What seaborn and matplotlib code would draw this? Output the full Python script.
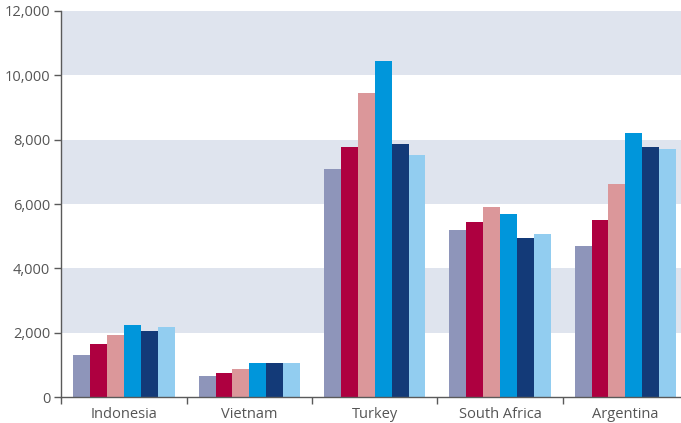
import matplotlib
matplotlib.use("Agg")
import matplotlib.pyplot as plt
import seaborn as sns
import pandas as pd
from matplotlib.ticker import FixedLocator, FuncFormatter

countries = ["Indonesia", "Vietnam", "Turkey", "South Africa", "Argentina"]
series = ["S1", "S2", "S3", "S4", "S5", "S6"]
values = {
    "S1": [1300, 650, 7100, 5180, 4690],
    "S2": [1650, 745, 7760, 5430, 5500],
    "S3": [1920, 870, 9450, 5920, 6610],
    "S4": [2230, 1055, 10460, 5680, 8200],
    "S5": [2050, 1055, 7850, 4930, 7760],
    "S6": [2170, 1055, 7510, 5060, 7700],
}
palette = ["#8E95BA", "#AE0040", "#DB979A", "#0096DB", "#133A78", "#92CDF0"]
y_ticks = [0, 2000, 4000, 6000, 8000, 10000, 12000]

df = pd.DataFrame(
    [(c, s, values[s][i]) for s in series for i, c in enumerate(countries)],
    columns=["country", "series", "value"],
)

sns.set_theme(style="white")
plt.rcParams["font.family"] = ["Open Sans", "DejaVu Sans"]

fig = plt.figure(figsize=(6.81, 4.23), dpi=100)
W, H = 681, 423
x0, x1, y0, y1 = 61.4, 688, 397, 11
ax = fig.add_axes([x0 / W, 1 - y0 / H, (x1 - x0) / W, (y0 - y1) / H])

# alternating horizontal bands
for lo in (2000, 6000, 10000):
    ax.axhspan(lo, lo + 2000, color="#DFE4EE", lw=0, zorder=0)

sns.barplot(
    data=df, x="country", y="value", hue="series", order=countries,
    hue_order=series, palette=palette, width=0.81, gap=0,
    saturation=1, errorbar=None, legend=False, ax=ax, zorder=2,
)
for p in ax.patches:
    p.set_edgecolor("none")

ax.set_xlim(-0.5, 4.5)
ax.set_ylim(0, 12000)
ax.set_xlabel("")
ax.set_ylabel("")

for s in ("top", "right"):
    ax.spines[s].set_visible(False)
for s in ("left", "bottom"):
    ax.spines[s].set_color("#5a5a5a")
    ax.spines[s].set_linewidth(1.0)
    ax.spines[s].set_zorder(3)

ax.yaxis.set_major_locator(FixedLocator(y_ticks))
ax.yaxis.set_major_formatter(FuncFormatter(lambda v, _: f"{int(v):,}"))
ax.tick_params(axis="y", which="major", left=True, length=5, width=1,
               color="#5a5a5a", labelcolor="#555555", labelsize=10.5, pad=3)

ax.set_xticks(range(len(countries)))
ax.set_xticklabels(countries)
ax.xaxis.set_minor_locator(FixedLocator([i - 0.5 for i in range(len(countries) + 1)]))
ax.tick_params(axis="x", which="major", bottom=False, length=0,
               labelcolor="#555555", labelsize=10.5, pad=7)
ax.tick_params(axis="x", which="minor", bottom=True, length=5, width=1,
               color="#5a5a5a")

fig.savefig("out.png", dpi=100)
